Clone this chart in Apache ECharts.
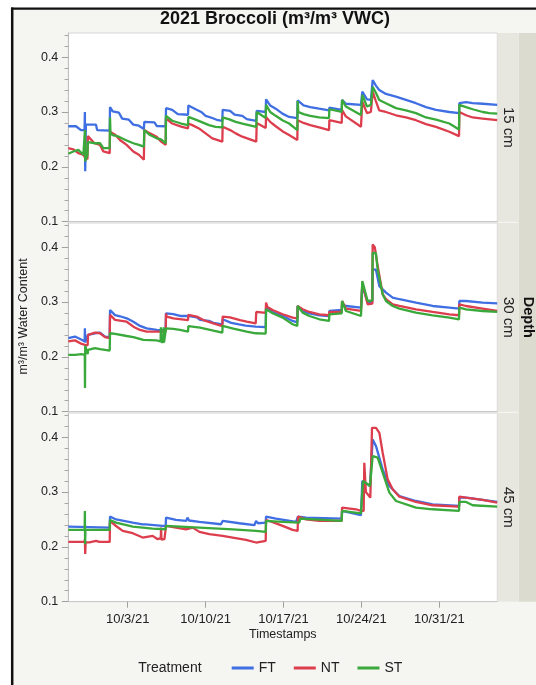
<!DOCTYPE html>
<html><head><meta charset="utf-8">
<script src="https://cdn.jsdelivr.net/npm/echarts@6/dist/echarts.min.js"></script>
<style>html,body{margin:0;padding:0;background:#fff}#c{width:536px;height:685px}</style>
</head><body><div id="c"></div>
<script>
// x values are days after 2021-10-01 00:00
const depths = ['15 cm', '30 cm', '45 cm'];
const treatments = ['FT', 'NT', 'ST'];
const xTickDays = [2, 9, 16, 23, 30];
const xTickLabels = ['10/3/21', '10/10/21', '10/17/21', '10/24/21', '10/31/21'];
const yTicks = [0.1, 0.2, 0.3, 0.4];
const yMinorTicks = [0.12, 0.14, 0.16, 0.18, 0.22, 0.24, 0.26, 0.28, 0.32, 0.34, 0.36, 0.38, 0.42, 0.44];

const ft15 = [[-3.34,0.274],[-2.65,0.274],[-2.20,0.267],[-1.88,0.267],[-1.85,0.300],[-1.82,0.192],[-1.76,0.277],[-0.85,0.277],[-0.75,0.267],[0.38,0.266],[0.41,0.309],[0.65,0.301],[1.2,0.299],[1.5,0.288],[2.1,0.286],[2.5,0.277],[3.0,0.275],[3.45,0.269],[3.49,0.282],[4.4,0.281],[4.6,0.2745],[5.41,0.274],[5.44,0.307],[6.0,0.304],[6.5,0.296],[7.42,0.295],[7.45,0.312],[8.1,0.305],[8.6,0.300],[9.0,0.293],[9.6,0.289],[10.1,0.285],[10.5,0.284],[10.53,0.304],[11.2,0.302],[11.6,0.295],[12.3,0.293],[12.7,0.287],[13.55,0.284],[13.59,0.302],[14.40,0.300],[14.43,0.323],[14.8,0.312],[15.3,0.306],[15.9,0.297],[16.5,0.291],[17.24,0.289],[17.27,0.321],[17.8,0.312],[18.4,0.309],[19.2,0.306],[20.09,0.303],[20.12,0.308],[21.23,0.304],[21.26,0.322],[21.6,0.315],[22.96,0.313],[23.08,0.337],[23.5,0.323],[23.85,0.322],[24.01,0.358],[24.3,0.348],[24.6,0.340],[25.2,0.333],[26.1,0.328],[27.0,0.322],[27.9,0.316],[28.8,0.309],[29.7,0.304],[30.9,0.300],[31.77,0.298],[31.80,0.316],[32.4,0.318],[33.0,0.316],[33.9,0.315],[35.2,0.313]];
const nt15 = [[-3.34,0.234],[-2.89,0.232],[-2.44,0.225],[-1.99,0.222],[-1.84,0.217],[-1.62,0.214],[-1.58,0.256],[-1.0,0.243],[-0.49,0.240],[-0.19,0.228],[0.38,0.225],[0.41,0.264],[0.9,0.258],[1.3,0.249],[1.9,0.240],[2.5,0.228],[3.0,0.222],[3.45,0.213],[3.49,0.267],[4.0,0.261],[4.6,0.255],[5.0,0.246],[5.41,0.240],[5.44,0.2885],[6.0,0.279],[6.8,0.2733],[7.42,0.270],[7.45,0.279],[7.8,0.276],[8.4,0.270],[9.0,0.261],[9.6,0.252],[10.5,0.246],[10.53,0.273],[11.2,0.267],[11.7,0.261],[12.3,0.255],[13.55,0.246],[13.59,0.280],[14.40,0.271],[14.43,0.291],[14.8,0.282],[15.3,0.274],[15.9,0.265],[16.5,0.258],[17.24,0.249],[17.27,0.285],[17.8,0.280],[18.4,0.276],[19.2,0.272],[20.09,0.267],[20.12,0.285],[21.23,0.280],[21.26,0.3036],[21.6,0.292],[22.96,0.273],[23.08,0.319],[23.5,0.298],[23.85,0.300],[24.01,0.337],[24.3,0.320],[24.6,0.303],[25.2,0.300],[26.1,0.294],[27.0,0.290],[27.9,0.285],[28.8,0.278],[29.7,0.273],[30.9,0.264],[31.77,0.256],[31.80,0.300],[32.4,0.294],[33.0,0.290],[33.9,0.288],[35.2,0.285]];
const st15 = [[-3.34,0.224],[-2.89,0.228],[-2.44,0.231],[-1.99,0.222],[-1.86,0.220],[-1.84,0.267],[-1.82,0.210],[-1.62,0.222],[-1.58,0.245],[-0.9,0.243],[-0.49,0.243],[-0.19,0.234],[0.38,0.234],[0.41,0.290],[0.45,0.261],[0.65,0.258],[1.2,0.255],[1.8,0.249],[2.5,0.243],[3.0,0.240],[3.45,0.237],[3.49,0.267],[4.0,0.258],[4.6,0.252],[5.0,0.250],[5.41,0.243],[5.44,0.293],[6.0,0.284],[6.8,0.279],[7.42,0.276],[7.45,0.291],[8.1,0.286],[8.6,0.282],[9.3,0.276],[9.9,0.273],[10.5,0.272],[10.53,0.290],[11.2,0.286],[11.7,0.282],[12.3,0.279],[13.55,0.273],[13.59,0.300],[14.40,0.289],[14.43,0.313],[14.8,0.300],[15.3,0.293],[15.9,0.285],[16.5,0.279],[17.24,0.267],[17.27,0.320],[17.33,0.300],[17.8,0.296],[18.4,0.293],[19.2,0.290],[20.09,0.289],[20.12,0.305],[21.23,0.300],[21.26,0.322],[21.6,0.310],[22.96,0.2945],[23.08,0.331],[23.5,0.310],[23.85,0.313],[24.01,0.346],[24.3,0.335],[24.6,0.322],[25.2,0.316],[26.1,0.307],[27.0,0.303],[27.9,0.298],[28.8,0.290],[29.7,0.286],[30.9,0.279],[31.77,0.268],[31.80,0.313],[32.4,0.309],[33.0,0.305],[33.9,0.300],[34.5,0.298],[35.2,0.297]];

const ft30 = [[-3.34,0.234],[-2.74,0.237],[-2.14,0.231],[-1.87,0.228],[-1.85,0.252],[-1.82,0.226],[-1.58,0.240],[-0.94,0.243],[-0.49,0.244],[-0.04,0.237],[0.38,0.236],[0.41,0.2855],[0.86,0.276],[1.31,0.274],[1.91,0.2703],[2.51,0.264],[3.10,0.2564],[3.70,0.252],[4.6,0.249],[5.41,0.248],[5.44,0.2794],[6.10,0.278],[6.70,0.2745],[7.42,0.2745],[7.45,0.277],[8.20,0.272],[8.50,0.2673],[9.3,0.2655],[9.70,0.262],[10.5,0.2594],[10.53,0.2685],[11.3,0.262],[12.0,0.259],[12.6,0.257],[13.5,0.2552],[14.40,0.254],[14.43,0.2897],[15.02,0.2818],[15.92,0.2745],[16.82,0.2655],[17.24,0.263],[17.27,0.2927],[17.72,0.2836],[18.32,0.2794],[19.22,0.2758],[20.09,0.2745],[20.12,0.2836],[21.23,0.2855],[21.26,0.2958],[21.61,0.2927],[22.96,0.2897],[23.08,0.330],[23.56,0.2988],[23.98,0.300],[24.01,0.3594],[24.3,0.359],[24.61,0.329],[24.91,0.323],[25.21,0.317],[25.81,0.308],[26.41,0.305],[27.9,0.2988],[29.4,0.2927],[30.9,0.2897],[31.77,0.2879],[31.80,0.3018],[32.4,0.3018],[33.89,0.2988],[35.2,0.2976]];
const nt30 = [[-3.34,0.228],[-2.74,0.230],[-2.14,0.2236],[-1.84,0.222],[-1.60,0.221],[-1.56,0.240],[-0.94,0.244],[-0.49,0.243],[-0.04,0.236],[0.38,0.234],[0.41,0.2764],[0.86,0.2673],[1.91,0.264],[2.51,0.255],[3.10,0.249],[3.70,0.246],[5.41,0.246],[5.44,0.279],[5.5,0.2733],[6.10,0.270],[7.42,0.267],[7.45,0.2764],[8.20,0.2733],[8.80,0.267],[9.70,0.261],[10.5,0.256],[10.53,0.2733],[11.19,0.272],[12.09,0.267],[12.69,0.264],[13.5,0.261],[13.55,0.2818],[14.40,0.280],[14.43,0.2988],[14.55,0.291],[15.02,0.2855],[15.92,0.2776],[16.82,0.2715],[17.24,0.270],[17.27,0.2927],[17.72,0.2867],[18.32,0.2818],[19.22,0.2776],[20.09,0.2758],[20.12,0.282],[21.23,0.2818],[21.26,0.3018],[21.61,0.2879],[22.96,0.2836],[23.08,0.335],[23.56,0.2958],[23.98,0.297],[24.01,0.4048],[24.2,0.400],[24.46,0.3655],[24.91,0.314],[25.21,0.305],[25.81,0.2958],[26.41,0.293],[27.9,0.2867],[29.4,0.2818],[30.9,0.2776],[31.77,0.2758],[31.80,0.2958],[32.4,0.2927],[33.89,0.2879],[35.2,0.2836]];
const st30 = [[-3.34,0.2036],[-2.74,0.2036],[-2.14,0.205],[-1.86,0.2036],[-1.84,0.143],[-1.82,0.220],[-1.60,0.205],[-1.56,0.2127],[-0.94,0.216],[-0.49,0.214],[0.38,0.2115],[0.41,0.243],[0.86,0.242],[1.91,0.238],[2.51,0.236],[3.40,0.2309],[4.60,0.230],[4.95,0.228],[4.98,0.254],[5.02,0.227],[5.2,0.227],[5.23,0.254],[5.26,0.226],[5.41,0.226],[5.44,0.252],[6.10,0.251],[6.70,0.249],[7.42,0.246],[7.45,0.256],[8.50,0.2533],[9.70,0.248],[10.5,0.244],[10.53,0.2564],[11.49,0.2515],[12.69,0.246],[13.5,0.243],[14.40,0.2424],[14.43,0.2867],[15.02,0.2794],[15.92,0.2715],[16.82,0.2594],[17.24,0.2564],[17.27,0.2927],[17.72,0.2806],[18.32,0.2745],[19.22,0.2685],[20.09,0.2655],[20.12,0.2776],[21.23,0.2794],[21.26,0.3018],[21.61,0.2836],[22.96,0.2745],[23.08,0.338],[23.56,0.3018],[23.98,0.303],[24.01,0.3897],[24.3,0.389],[24.46,0.359],[24.91,0.314],[25.21,0.3018],[25.81,0.2927],[26.41,0.288],[27.9,0.2806],[29.4,0.2758],[30.9,0.2715],[31.77,0.2685],[31.80,0.2897],[32.4,0.2867],[33.89,0.2836],[35.2,0.2818]];

const ft45 = [[-3.34,0.237],[0.38,0.235],[0.41,0.2552],[0.95,0.250],[2.45,0.2442],[3.34,0.241],[3.47,0.244],[3.6,0.241],[5.14,0.2382],[5.41,0.238],[5.44,0.2533],[6.34,0.249],[7.24,0.2473],[7.39,0.2533],[7.5,0.248],[8.44,0.2455],[10.38,0.2412],[10.53,0.2473],[10.6,0.244],[12.03,0.243],[13.38,0.2394],[13.53,0.2473],[13.7,0.243],[14.40,0.2442],[14.43,0.2552],[15.32,0.2515],[17.12,0.2455],[17.3,0.2552],[18.02,0.2533],[21.23,0.2515],[21.26,0.2655],[22.96,0.2576],[23.08,0.320],[23.56,0.314],[23.77,0.311],[24.01,0.3958],[24.31,0.3836],[24.91,0.3412],[25.51,0.311],[26.41,0.2927],[27.9,0.2836],[29.4,0.2776],[31.77,0.2745],[31.80,0.2897],[32.4,0.2897],[33.89,0.2855],[35.2,0.2818]];
const nt45 = [[-3.34,0.209],[-1.87,0.209],[-1.85,0.214],[-1.82,0.187],[-1.78,0.208],[-1.45,0.208],[-0.85,0.211],[-0.55,0.209],[0.38,0.209],[0.41,0.2473],[0.95,0.238],[1.55,0.229],[2.45,0.2248],[3.34,0.217],[4.24,0.220],[4.69,0.214],[4.97,0.216],[5.0,0.235],[5.03,0.213],[5.3,0.214],[5.41,0.214],[5.44,0.2382],[6.34,0.235],[7.24,0.232],[7.84,0.235],[8.44,0.2273],[9.33,0.223],[10.53,0.220],[11.43,0.217],[12.63,0.2127],[13.53,0.2079],[14.40,0.211],[14.43,0.249],[15.02,0.245],[15.92,0.2382],[16.82,0.231],[17.27,0.229],[17.3,0.2552],[18.02,0.250],[19.22,0.2473],[21.23,0.2473],[21.26,0.2715],[22.51,0.2685],[22.96,0.2655],[23.2,0.2655],[23.26,0.3533],[23.4,0.300],[23.56,0.2988],[23.8,0.2897],[23.95,0.417],[24.31,0.417],[24.61,0.4079],[24.91,0.3715],[25.36,0.323],[25.81,0.305],[26.41,0.2915],[27.9,0.2818],[29.4,0.2758],[31.77,0.2733],[31.80,0.2915],[32.4,0.2897],[33.89,0.2855],[35.2,0.2806]];
const st45 = [[-3.34,0.2309],[-1.87,0.2309],[-1.85,0.2655],[-1.83,0.2048],[-1.80,0.231],[0.38,0.2309],[0.41,0.249],[0.95,0.2442],[2.45,0.237],[4.24,0.2333],[5.41,0.2321],[5.44,0.2382],[8.44,0.2352],[11.43,0.232],[13.53,0.2291],[14.40,0.2273],[14.43,0.2473],[15.92,0.2455],[17.42,0.2442],[17.5,0.2515],[21.23,0.2473],[21.26,0.2655],[22.96,0.2612],[23.14,0.320],[23.56,0.314],[23.77,0.311],[24.01,0.3655],[24.46,0.3625],[24.91,0.3352],[25.51,0.2988],[26.11,0.2836],[27.9,0.2715],[29.4,0.2685],[31.77,0.2655],[31.80,0.2818],[32.4,0.2818],[33.0,0.2758],[35.2,0.2733]];

const panelData = [[ft15, nt15, st15], [ft30, nt30, st30], [ft45, nt45, st45]];
const colors = ['#3f6fe2', '#dc3e4e', '#3aa93b'];

const X_MIN = -3.34, X_MAX = 35.21, Y_MIN = 0.1, Y_MAX = 0.444;
const LEFT = 68.3, RIGHT = 497.3;
const tops = [33, 223, 413];
const H = 188.7;
const textColor = '#222';

const grids = [], xAxes = [], yAxes = [], series = [], graphics = [];

// frame
graphics.push({type:'rect', shape:{x:0,y:0,width:11,height:685}, style:{fill:'#fff'}});
graphics.push({type:'rect', shape:{x:0,y:0,width:536,height:7.5}, style:{fill:'#fff'}});
graphics.push({type:'line', shape:{x1:12.2,y1:7.5,x2:12.2,y2:685}, style:{stroke:'#111', lineWidth:2.5}});
graphics.push({type:'line', shape:{x1:11,y1:8.6,x2:536,y2:8.6}, style:{stroke:'#111', lineWidth:2.2}});
// title
graphics.push({type:'text', x:275, y:19.5, style:{text:'2021 Broccoli (m³/m³ VWC)', font:'bold 18px "Liberation Sans", Arial, sans-serif', fill:'#111', align:'center', verticalAlign:'middle'}});
// y title
graphics.push({type:'text', x:23.5, y:316.5, rotation:Math.PI/2, style:{text:'m³/m³ Water Content', font:'12.5px "Liberation Sans", Arial, sans-serif', fill:textColor, align:'center', verticalAlign:'middle'}});
// outer strip
graphics.push({type:'rect', shape:{x:518.6, y:tops[0], width:17.4, height:tops[2]+H-tops[0]}, style:{fill:'#dcdbd0'}});
graphics.push({type:'text', x:527.6, y:tops[1]+H/2, rotation:-Math.PI/2, style:{text:'Depth', font:'bold 14.5px "Liberation Sans", Arial, sans-serif', fill:'#111', align:'center', verticalAlign:'middle'}});
// legend title
graphics.push({type:'text', x:138.3, y:667.7, style:{text:'Treatment', font:'14px "Liberation Sans", Arial, sans-serif', fill:textColor, align:'left', verticalAlign:'middle'}});

for (let i = 0; i < 3; i++) {
  grids.push({left:LEFT, top:tops[i], width:RIGHT-LEFT, height:H, show:true, backgroundColor:'#fff', borderColor:'#d6d6d6', borderWidth:1});
  const last = i === 2;
  xAxes.push({
    gridIndex:i, type:'value', min:X_MIN, max:X_MAX,
    axisLine:{show:true, onZero:false, lineStyle:{color:'#c9c9c9', width:1}},
    axisTick: last ? {show:true, customValues:xTickDays, length:6, lineStyle:{color:'#a0a0a0'}} : {show:false},
    axisLabel: last ? {show:true, customValues:xTickDays, margin:11, fontSize:13, color:textColor, fontFamily:'"Liberation Sans", Arial, sans-serif',
      formatter:(v)=>{ const k = xTickDays.indexOf(Math.round(v)); return k >= 0 ? xTickLabels[k] : ''; }} : {show:false},
    splitLine:{show:false},
    name: last ? 'Timestamps' : '', nameLocation:'middle', nameGap:26,
    nameTextStyle:{fontSize:12.5, color:textColor, fontFamily:'"Liberation Sans", Arial, sans-serif'}
  });
  yAxes.push({
    gridIndex:i, type:'value', min:Y_MIN, max:Y_MAX,
    axisLine:{show:true, onZero:false, lineStyle:{color:'#bdbdbd', width:1}},
    axisTick:{show:true, customValues:yTicks, length:6.5, lineStyle:{color:'#a0a0a0'}},
    axisLabel:{show:true, customValues:yTicks, margin:10, fontSize:12.5, color:textColor, fontFamily:'"Liberation Sans", Arial, sans-serif', formatter:(v)=>v.toFixed(1)},
    splitLine:{show:false}
  });
  // inner strip
  graphics.push({type:'rect', shape:{x:497.8, y:tops[i], width:20.8, height:H}, style:{fill:'#e7e6df'}});
  graphics.push({type:'text', x:507.8, y:tops[i]+H/2, rotation:-Math.PI/2, style:{text:depths[i], font:'15px "Liberation Sans", Arial, sans-serif', fill:textColor, align:'center', verticalAlign:'middle'}});
}
for (let i = 0; i < 3; i++) {
  yAxes.push({
    gridIndex:i, type:'value', min:Y_MIN, max:Y_MAX, position:'left',
    axisLine:{show:false, onZero:false},
    axisTick:{show:true, customValues:yMinorTicks, length:3.8, lineStyle:{color:'#a8a8a8'}},
    axisLabel:{show:false}, splitLine:{show:false}
  });
}
for (let i = 0; i < 3; i++) {
  for (let j = 0; j < 3; j++) {
    series.push({
      type:'line', name:treatments[j], xAxisIndex:i, yAxisIndex:i,
      data:panelData[i][j], showSymbol:false, symbol:'none', silent:true,
      lineStyle:{width:2.3, color:colors[j]}, itemStyle:{color:colors[j]}
    });
  }
}

const chart = echarts.init(document.getElementById('c'), null, {renderer:'canvas'});
chart.setOption({
  animation:false,
  backgroundColor:'#f5f5f2',
  grid:grids, xAxis:xAxes, yAxis:yAxes, series:series,
  legend:{data:treatments, left:231.7, top:661, padding:0, itemWidth:22, itemHeight:3, icon:'rect', itemGap:18,
    textStyle:{fontSize:14, color:textColor, fontFamily:'"Liberation Sans", Arial, sans-serif'}},
  graphic:graphics
});
</script></body></html>
